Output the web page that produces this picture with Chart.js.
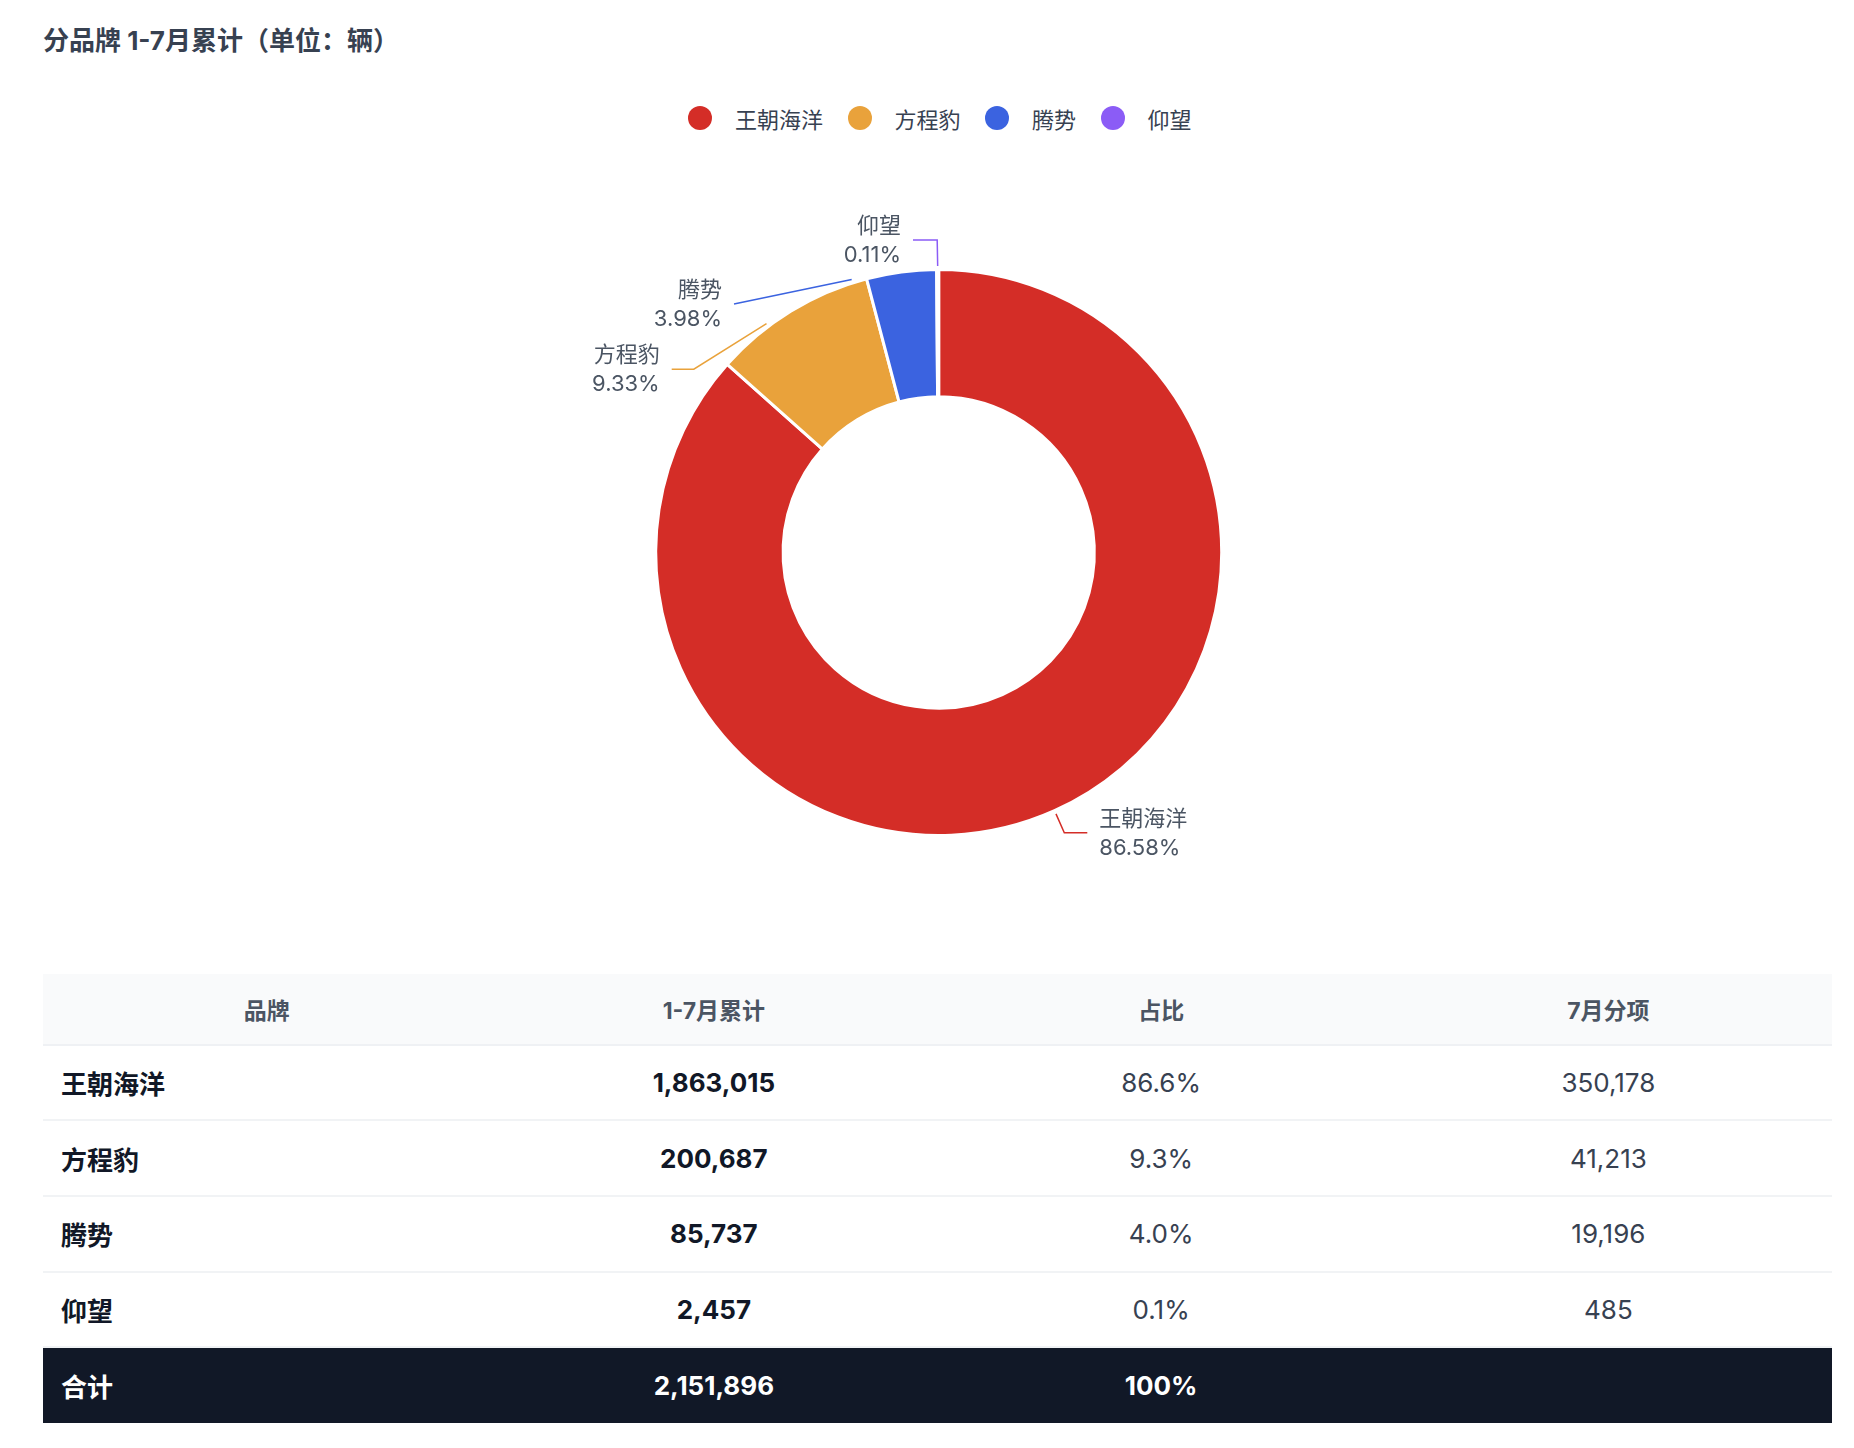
<!DOCTYPE html>
<html lang="zh-CN">
<head>
<meta charset="utf-8">
<title>分品牌 1-7月累计</title>
<script src="https://cdn.jsdelivr.net/npm/chart.js@4.4.1/dist/chart.umd.min.js"></script>
<style>
  html, body { margin: 0; padding: 0; background: #fff; }
  body { width: 1854px; height: 1448px; position: relative; overflow: hidden;
         font-family: Inter, "Noto Sans CJK SC", sans-serif; }
  .title { position: absolute; left: 43px; top: 24px; font-size: 26px; line-height: 34px;
           font-weight: 700; color: #374151; }
  .legend { position: absolute; left: 688px; top: 102.5px; height: 30px; display: flex;
            align-items: center; font-size: 22px; color: #374151;
            font-family: "Noto Sans CJK SC", sans-serif; }
  .legend .item { display: flex; align-items: center; margin-right: 24.5px; }
  .legend .dot { width: 24px; height: 24px; border-radius: 50%; margin-right: 23px; }
  #chartBox { position: absolute; left: 0; top: 140px; width: 1854px; height: 830px; }
  .tbl { position: absolute; left: 43px; top: 973.5px; width: 1789px; }
  .row { display: grid; grid-template-columns: repeat(4, 1fr); align-items: center;
         box-sizing: border-box; }
  .row > div { text-align: center; }
  .row > div:first-child { text-align: left; padding-left: 18px; }
  .head { height: 72px; background: #f9fafb; border-bottom: 2px solid #eff1f4;
          font-size: 23px; font-weight: 700; color: #4b5563; }
  .head > div:first-child { text-align: center; padding-left: 0; }
  .body { height: 75.7px; border-bottom: 2px solid #f1f3f5; font-size: 26px; color: #374151; }
  .body > div:nth-child(1), .body > div:nth-child(2) { font-weight: 700; color: #111827; }
  .total { height: 74.5px; background: #111827; color: #fff; font-size: 26px; font-weight: 700; }
</style>
</head>
<body>
<div class="title">分品牌 1-7月累计（单位：辆）</div>
<div class="legend" id="legend"></div>
<div id="chartBox"><canvas id="pie"></canvas></div>
<div class="tbl" id="tbl"></div>

<script>
// 数据
const brands = ['王朝海洋', '方程豹', '腾势', '仰望'];
const ytdValues = [1863015, 200687, 85737, 2457];   // 1-7月累计
const julyValues = [350178, 41213, 19196, 485];     // 7月分项
const headers = ['品牌', '1-7月累计', '占比', '7月分项'];
const colors = ['#d42d27', '#e9a23b', '#3b63e0', '#8b5cf6'];

// 标签引导线的摆放（相对圆心的像素偏移）
const labelLayout = [
  { angleShift: 0, elbow: [125.6, 280.2], endX: 148.6 },
  { angleShift: -5.4, elbow: [-244.9, -183.3], endX: -267 },
  { angleShift: -10.1, elbow: [-204.7, -248.5], endX: -204.7 },
  { angleShift: 0, elbow: [-1.5, -312.5], endX: -25.7 }
];

const total = ytdValues.reduce((a, b) => a + b, 0);
const fmt = n => n.toLocaleString('en-US');

// 图例
const legendEl = document.getElementById('legend');
brands.forEach((b, i) => {
  const item = document.createElement('div');
  item.className = 'item';
  item.innerHTML = '<span class="dot" style="background:' + colors[i] + '"></span><span>' + b + '</span>';
  legendEl.appendChild(item);
});

// 外部标签 + 引导线
const leaderLabels = {
  id: 'leaderLabels',
  afterDatasetsDraw(chart) {
    const { ctx } = chart;
    const meta = chart.getDatasetMeta(0);
    meta.data.forEach((arc, i) => {
      const p = arc.getProps(['x', 'y', 'startAngle', 'endAngle', 'outerRadius'], true);
      const lay = labelLayout[i];
      const mid = (p.startAngle + p.endAngle) / 2 + lay.angleShift * Math.PI / 180;
      const r = p.outerRadius + 3.5;
      const sx = p.x + Math.cos(mid) * r;
      const sy = p.y + Math.sin(mid) * r;
      const ex = p.x + lay.elbow[0];
      const ey = p.y + lay.elbow[1];
      const tx = p.x + lay.endX;
      const right = lay.endX < 0;

      ctx.save();
      ctx.strokeStyle = colors[i];
      ctx.lineWidth = 1.5;
      ctx.beginPath();
      ctx.moveTo(sx, sy);
      ctx.lineTo(ex, ey);
      ctx.lineTo(tx, ey);
      ctx.stroke();

      ctx.fillStyle = '#4b5563';
      ctx.font = '22px Inter, "Noto Sans CJK SC", sans-serif';
      ctx.textAlign = right ? 'right' : 'left';
      ctx.textBaseline = 'middle';
      const lx = tx + (right ? -12 : 12);
      ctx.fillText(brands[i], lx, ey - 13.5);
      ctx.fillText((ytdValues[i] / total * 100).toFixed(2) + '%', lx, ey + 15.5);
      ctx.restore();
    });
  }
};

const ctx = document.getElementById('pie').getContext('2d');
new Chart(ctx, {
  type: 'doughnut',
  data: {
    labels: brands,
    datasets: [{
      data: ytdValues,
      backgroundColor: colors,
      borderColor: '#ffffff',
      borderWidth: 3,
      hoverOffset: 0
    }]
  },
  options: {
    responsive: true,
    maintainAspectRatio: false,
    animation: false,
    radius: 283,
    cutout: '55%',
    layout: { padding: { left: 638.7, right: 615.3, top: 112.5, bottom: 117.5 } },
    plugins: {
      legend: { display: false },
      tooltip: { enabled: false }
    }
  },
  plugins: [leaderLabels]
});

// 表格
const tbl = document.getElementById('tbl');
const addRow = (cls, cells) => {
  const row = document.createElement('div');
  row.className = 'row ' + cls;
  cells.forEach(c => {
    const d = document.createElement('div');
    d.textContent = c;
    row.appendChild(d);
  });
  tbl.appendChild(row);
};
addRow('head', headers);
brands.forEach((b, i) => {
  addRow('body', [b, fmt(ytdValues[i]), (ytdValues[i] / total * 100).toFixed(1) + '%', fmt(julyValues[i])]);
});
addRow('total', ['合计', fmt(total), '100%', '']);
</script>
</body>
</html>
